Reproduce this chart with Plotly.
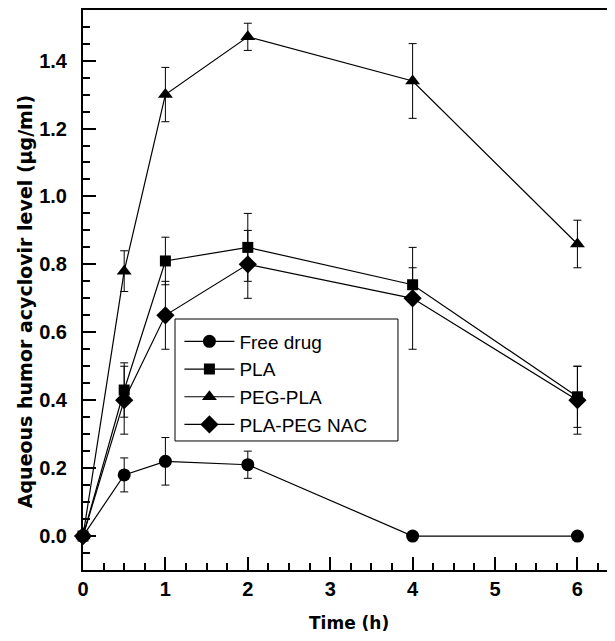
import plotly.graph_objects as go

time_h = [0, 0.5, 1, 2, 4, 6]

free_drug = [0, 0.18, 0.22, 0.21, 0, 0]
free_drug_err = [0, 0.05, 0.07, 0.04, 0, 0]

pla = [0, 0.43, 0.81, 0.85, 0.74, 0.41]
pla_err = [0, 0.08, 0.07, 0.10, 0.05, 0.09]

peg_pla = [0, 0.78, 1.30, 1.47, 1.34, 0.86]
peg_pla_err = [0, 0.06, 0.08, 0.04, 0.11, 0.07]

pla_peg_nac = [0, 0.40, 0.65, 0.80, 0.70, 0.40]
pla_peg_nac_err = [0, 0.10, 0.10, 0.10, 0.15, 0.10]

x_ticks = [0, 1, 2, 3, 4, 5, 6]
y_ticks = [0.0, 0.2, 0.4, 0.6, 0.8, 1.0, 1.2, 1.4]
y_tick_labels = ["0.0", "0.2", "0.4", "0.6", "0.8", "1.0", "1.2", "1.4"]

series = [
    ("Free drug", free_drug, free_drug_err, "circle", 13),
    ("PLA", pla, pla_err, "square", 11),
    ("PEG-PLA", peg_pla, peg_pla_err, "triangle-up", 13),
    ("PLA-PEG NAC", pla_peg_nac, pla_peg_nac_err, "diamond", 14),
]

fig = go.Figure()
for name, vals, errs, sym, size in series:
    fig.add_trace(go.Scatter(
        x=time_h, y=vals, name=name, mode="lines+markers",
        line=dict(color="black", width=1.2),
        marker=dict(symbol=sym, size=size, color="black"),
        error_y=dict(type="data", array=errs, visible=True, color="black", thickness=1, width=4),
        cliponaxis=False,
    ))

FONT = "Liberation Sans, Arial, sans-serif"
TFONT = "DejaVu Sans, Liberation Sans, sans-serif"

fig.update_layout(
    width=599, height=625,
    margin=dict(l=75, r=0, t=2, b=63),
    paper_bgcolor="white", plot_bgcolor="white",
    font=dict(family=FONT, color="black"),
    showlegend=True,
    legend=dict(
        x=0.184, y=0.442, xanchor="left", yanchor="top",
        borderwidth=0, bgcolor="rgba(0,0,0,0)",
        font=dict(family=FONT, size=19, color="black"),
        tracegroupgap=0, itemwidth=50,
    ),
    shapes=[dict(
        type="rect", xref="paper", yref="paper",
        x0=0.1756, x1=0.6011, y0=0.2304, y1=0.4482,
        line=dict(color="black", width=1), fillcolor="white", layer="above",
    )],
    xaxis=dict(
        range=[0, 6.359], automargin=False,
        tickvals=x_ticks,
        ticks="inside", ticklen=13, tickwidth=2, tickcolor="black",
        minor=dict(dtick=0.25, tick0=0, ticks="inside", ticklen=7, tickwidth=1.5, tickcolor="black"),
        showline=True, linecolor="black", linewidth=2, mirror=True,
        showgrid=False, zeroline=False,
        tickfont=dict(family=FONT, size=20, color="black", weight="bold"),
    ),
    yaxis=dict(
        range=[-0.1, 1.549], automargin=False,
        tickvals=y_ticks, ticktext=y_tick_labels,
        ticks="inside", ticklen=13, tickwidth=2, tickcolor="black",
        minor=dict(dtick=0.05, tick0=0, ticks="inside", ticklen=7, tickwidth=1.5, tickcolor="black"),
        showline=True, linecolor="black", linewidth=2, mirror=False,
        showgrid=False, zeroline=False,
        ticklabelstandoff=10,
        tickfont=dict(family=FONT, size=20, color="black", weight="bold"),
    ),
    annotations=[
        dict(
            text="<b>Aqueous humor acyclovir level (µg/ml)</b>",
            xref="paper", yref="paper", x=-0.1107, y=0.480,
            xanchor="center", yanchor="middle", textangle=-90, showarrow=False,
            font=dict(family=TFONT, size=19, color="black"),
        ),
        dict(
            text="<b>Time (h)</b>",
            xref="paper", yref="paper", x=0.5076, y=-0.0955,
            xanchor="center", yanchor="middle", showarrow=False,
            font=dict(family=TFONT, size=17, color="black"),
        ),
    ],
)

fig.write_html("out.html")
